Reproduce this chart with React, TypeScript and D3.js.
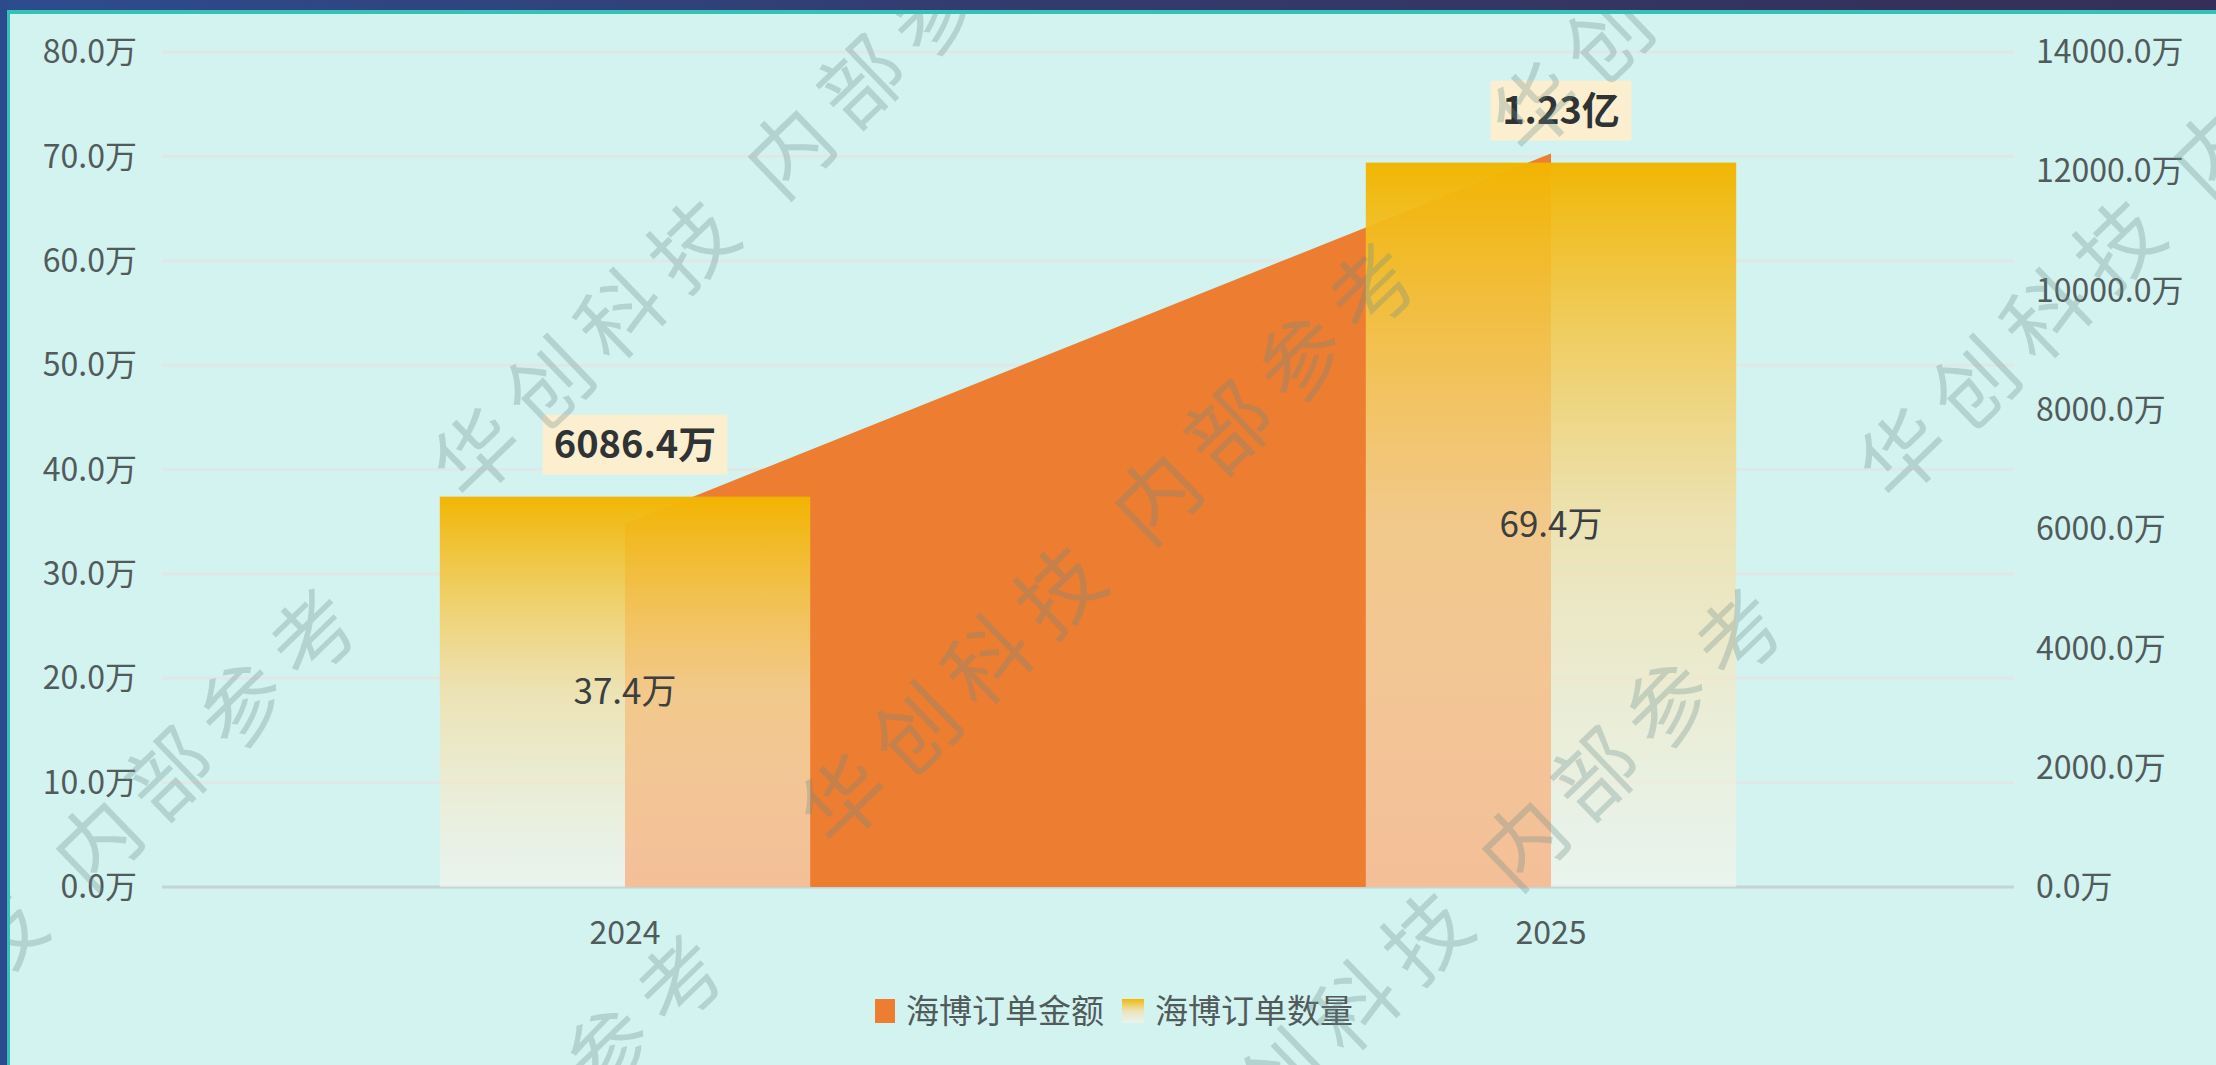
import * as d3 from "d3";

// 海博订单：金额（右轴，万元）与数量（左轴，万单）
const years = ["2024", "2025"];
const orderCount = [37.4, 69.4]; // 万
const orderAmount = [6086.4, 12300]; // 万
const amountLabels = ["6086.4万", "1.23亿"];
const countLabels = ["37.4万", "69.4万"];
const leftTicks = [0, 10, 20, 30, 40, 50, 60, 70, 80];
const rightTicks = [0, 2000, 4000, 6000, 8000, 10000, 12000, 14000];
const legendNames = ["海博订单金额", "海博订单数量"];
const watermarkText = "华创科技 内部参考";

const W = 2216;
const H = 1065;
const FONT = "'Noto Sans CJK SC', 'Microsoft YaHei', sans-serif";
const ORANGE = "#ed7d31";

export default function App() {
  const left = 162;
  const right = 2014;
  const top = 52;
  const bottom = 887;

  const x = d3.scaleBand<string>().domain(years).range([left, right]);
  const barW = x.bandwidth() * 0.4;
  const cx = (c: string) => (x(c) as number) + x.bandwidth() / 2;
  const yL = d3.scaleLinear().domain([0, 80]).range([bottom, top]);
  const yR = d3.scaleLinear().domain([0, 14000]).range([bottom, top]);

  const area = d3
    .area<number>()
    .x((d, i) => cx(years[i]))
    .y0(yR(0))
    .y1((d) => yR(d));

  // 水印网格（斜向平铺）
  const wmOrigin = [468, 505];
  const rowStep = [367, 346];
  const colStep = [692, -692];
  const marks: [number, number][] = [];
  for (let i = 0; i <= 2; i++) {
    for (let j = -2; j <= 3; j++) {
      const px = wmOrigin[0] + i * rowStep[0] + j * colStep[0];
      const py = wmOrigin[1] + i * rowStep[1] + j * colStep[1];
      if (px > -900 && px < W + 100 && py > -100 && py < H + 900) marks.push([px, py]);
    }
  }

  const labelW = (s: string, fs: number) =>
    Array.from(s).reduce((a, ch) => a + (ch === "." ? 0.28 : /[0-9]/.test(ch) ? 0.58 : 1) * fs, 0);

  return (
    <svg
      width={W}
      height={H}
      style={{ position: "absolute", left: 0, top: 0, display: "block" }}
      fontFamily={FONT}
    >
      <defs>
        <linearGradient id="barGrad" x1="0" y1="0" x2="0" y2="1">
          <stop offset="0" stopColor="#f2b500" stopOpacity={0.98} />
          <stop offset="0.5" stopColor="#f3dea4" stopOpacity={0.78} />
          <stop offset="1" stopColor="#f9f5ec" stopOpacity={0.55} />
        </linearGradient>
        <linearGradient id="topBand" x1="0" y1="0" x2="1" y2="0">
          <stop offset="0" stopColor="#2d4c8e" />
          <stop offset="0.5" stopColor="#333a6c" />
          <stop offset="1" stopColor="#352f57" />
        </linearGradient>
      </defs>

      <rect width={W} height={H} fill="#d3f3f0" />

      {/* 网格线 */}
      <g stroke="#dfe8e6" strokeWidth={3}>
        {leftTicks.slice(1).map((t) => (
          <line key={t} x1={left} x2={right} y1={yL(t)} y2={yL(t)} />
        ))}
      </g>
      <line x1={left} x2={right} y1={bottom} y2={bottom} stroke="#c6d4d3" strokeWidth={3} />

      {/* 金额面积 */}
      <path d={area(orderAmount) as string} fill={ORANGE} />

      {/* 数量柱 */}
      {years.map((c, i) => (
        <rect
          key={c}
          x={cx(c) - barW / 2}
          y={yL(orderCount[i])}
          width={barW}
          height={bottom - yL(orderCount[i])}
          fill="url(#barGrad)"
        />
      ))}
      {years.map((c, i) => (
        <text
          key={c}
          x={cx(c)}
          y={(yL(orderCount[i]) + bottom) / 2}
          dy="0.35em"
          textAnchor="middle"
          fontSize={35}
          fill="#3a3f40"
        >
          {countLabels[i]}
        </text>
      ))}

      {/* 金额标签 */}
      {years.map((c, i) => {
        const w = labelW(amountLabels[i], 38) + 26;
        const h = 60;
        const bx = cx(c) + 10;
        const by = yL(orderCount[i]) - 22 - h;
        return (
          <g key={c}>
            <rect x={bx - w / 2} y={by} width={w} height={h} fill="#fbefcf" />
            <text
              x={bx}
              y={by + h / 2}
              dy="0.35em"
              textAnchor="middle"
              fontSize={38}
              fontWeight="bold"
              fill="#2f3333"
            >
              {amountLabels[i]}
            </text>
          </g>
        );
      })}

      {/* 坐标轴文字 */}
      <g fontSize={32} fill="#525b5b">
        {leftTicks.map((t) => (
          <text key={t} x={137} y={yL(t)} dy="0.35em" textAnchor="end">
            {t.toFixed(1)}万
          </text>
        ))}
        {rightTicks.map((t) => (
          <text key={t} x={2036} y={yR(t)} dy="0.35em">
            {t.toFixed(1)}万
          </text>
        ))}
        {years.map((c) => (
          <text key={c} x={cx(c)} y={933} dy="0.35em" textAnchor="middle">
            {c}
          </text>
        ))}
      </g>

      {/* 图例 */}
      <g fontSize={33} fill="#525b5b">
        <rect x={875} y={999} width={20} height={24} fill={ORANGE} />
        <text x={906} y={1011} dy="0.35em">
          {legendNames[0]}
        </text>
        <rect x={1122} y={999} width={22} height={24} fill="url(#barGrad)" />
        <text x={1155} y={1011} dy="0.35em">
          {legendNames[1]}
        </text>
      </g>

      {/* 水印 */}
      <g fontSize={84} fill="rgba(105,140,140,0.3)" letterSpacing={16}>
        {marks.map(([px, py], k) => (
          <text key={k} transform={`translate(${px},${py}) rotate(-44)`}>
            {watermarkText}
          </text>
        ))}
      </g>

      {/* 边框 */}
      <rect x={0} y={0} width={W} height={10} fill="url(#topBand)" />
      <rect x={0} y={10} width={W} height={4} fill="#35c1b7" />
      <rect x={0} y={0} width={7} height={H} fill="#2c4b8d" />
      <rect x={7} y={14} width={3} height={H} fill="#35c1b7" />
    </svg>
  );
}
